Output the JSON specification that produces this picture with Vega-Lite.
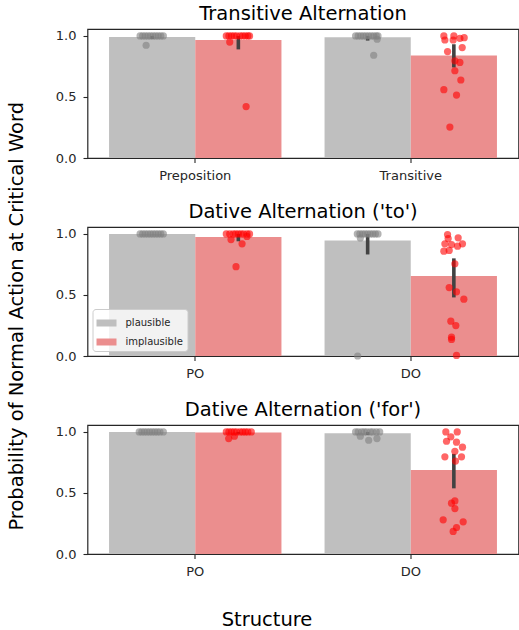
{
  "$schema": "https://vega.github.io/schema/vega-lite/v6.json",
  "padding": {"left": 6.5, "top": 3, "right": 0, "bottom": 0},
  "bounds": "flush",
  "title": {"text": "Probability of Normal Action at Critical Word", "orient": "left", "anchor": "middle", "frame": "bounds", "fontSize": 19.5, "fontWeight": "normal", "offset": 27},
  "datasets": {
    "summary": [
      {"panel": "T", "structure": "Preposition", "condition": "plausible", "mean": 0.992, "lo": 0.977, "hi": 1.0},
      {"panel": "T", "structure": "Preposition", "condition": "implausible", "mean": 0.967, "lo": 0.89, "hi": 1.0},
      {"panel": "T", "structure": "Transitive", "condition": "plausible", "mean": 0.989, "lo": 0.962, "hi": 1.0},
      {"panel": "T", "structure": "Transitive", "condition": "implausible", "mean": 0.84, "lo": 0.742, "hi": 0.932},
      {"panel": "to", "structure": "PO", "condition": "plausible", "mean": 1.0, "lo": 1.0, "hi": 1.0},
      {"panel": "to", "structure": "PO", "condition": "implausible", "mean": 0.976, "lo": 0.94, "hi": 1.0},
      {"panel": "to", "structure": "DO", "condition": "plausible", "mean": 0.946, "lo": 0.832, "hi": 1.0},
      {"panel": "to", "structure": "DO", "condition": "implausible", "mean": 0.656, "lo": 0.48, "hi": 0.8},
      {"panel": "for", "structure": "PO", "condition": "plausible", "mean": 1.0, "lo": 1.0, "hi": 1.0},
      {"panel": "for", "structure": "PO", "condition": "implausible", "mean": 0.995, "lo": 0.985, "hi": 1.0},
      {"panel": "for", "structure": "DO", "condition": "plausible", "mean": 0.989, "lo": 0.975, "hi": 1.0},
      {"panel": "for", "structure": "DO", "condition": "implausible", "mean": 0.688, "lo": 0.538, "hi": 0.82}
    ],
    "points": [
      {"panel": "T", "structure": "Preposition", "condition": "plausible", "value": 1.0, "jitter": -0.14},
      {"panel": "T", "structure": "Preposition", "condition": "plausible", "value": 1.0, "jitter": -0.11},
      {"panel": "T", "structure": "Preposition", "condition": "plausible", "value": 1.0, "jitter": -0.08},
      {"panel": "T", "structure": "Preposition", "condition": "plausible", "value": 1.0, "jitter": -0.05},
      {"panel": "T", "structure": "Preposition", "condition": "plausible", "value": 1.0, "jitter": -0.02},
      {"panel": "T", "structure": "Preposition", "condition": "plausible", "value": 1.0, "jitter": 0.01},
      {"panel": "T", "structure": "Preposition", "condition": "plausible", "value": 1.0, "jitter": 0.04},
      {"panel": "T", "structure": "Preposition", "condition": "plausible", "value": 1.0, "jitter": 0.07},
      {"panel": "T", "structure": "Preposition", "condition": "plausible", "value": 1.0, "jitter": 0.1},
      {"panel": "T", "structure": "Preposition", "condition": "plausible", "value": 1.0, "jitter": 0.13},
      {"panel": "T", "structure": "Preposition", "condition": "plausible", "value": 0.924, "jitter": -0.07},
      {"panel": "T", "structure": "Preposition", "condition": "implausible", "value": 1.0, "jitter": -0.14},
      {"panel": "T", "structure": "Preposition", "condition": "implausible", "value": 1.0, "jitter": -0.11},
      {"panel": "T", "structure": "Preposition", "condition": "implausible", "value": 1.0, "jitter": -0.08},
      {"panel": "T", "structure": "Preposition", "condition": "implausible", "value": 1.0, "jitter": -0.05},
      {"panel": "T", "structure": "Preposition", "condition": "implausible", "value": 1.0, "jitter": -0.02},
      {"panel": "T", "structure": "Preposition", "condition": "implausible", "value": 1.0, "jitter": 0.02},
      {"panel": "T", "structure": "Preposition", "condition": "implausible", "value": 1.0, "jitter": 0.05},
      {"panel": "T", "structure": "Preposition", "condition": "implausible", "value": 1.0, "jitter": 0.08},
      {"panel": "T", "structure": "Preposition", "condition": "implausible", "value": 1.0, "jitter": 0.11},
      {"panel": "T", "structure": "Preposition", "condition": "implausible", "value": 1.0, "jitter": 0.13},
      {"panel": "T", "structure": "Preposition", "condition": "implausible", "value": 0.95, "jitter": -0.1},
      {"panel": "T", "structure": "Preposition", "condition": "implausible", "value": 0.421, "jitter": 0.09},
      {"panel": "T", "structure": "Transitive", "condition": "plausible", "value": 1.0, "jitter": -0.14},
      {"panel": "T", "structure": "Transitive", "condition": "plausible", "value": 1.0, "jitter": -0.11},
      {"panel": "T", "structure": "Transitive", "condition": "plausible", "value": 1.0, "jitter": -0.08},
      {"panel": "T", "structure": "Transitive", "condition": "plausible", "value": 1.0, "jitter": -0.05},
      {"panel": "T", "structure": "Transitive", "condition": "plausible", "value": 1.0, "jitter": -0.02},
      {"panel": "T", "structure": "Transitive", "condition": "plausible", "value": 1.0, "jitter": 0.01},
      {"panel": "T", "structure": "Transitive", "condition": "plausible", "value": 1.0, "jitter": 0.04},
      {"panel": "T", "structure": "Transitive", "condition": "plausible", "value": 1.0, "jitter": 0.07},
      {"panel": "T", "structure": "Transitive", "condition": "plausible", "value": 1.0, "jitter": 0.1},
      {"panel": "T", "structure": "Transitive", "condition": "plausible", "value": 1.0, "jitter": 0.12},
      {"panel": "T", "structure": "Transitive", "condition": "plausible", "value": 0.973, "jitter": 0.11},
      {"panel": "T", "structure": "Transitive", "condition": "plausible", "value": 0.842, "jitter": 0.07},
      {"panel": "T", "structure": "Transitive", "condition": "implausible", "value": 1.0, "jitter": -0.116},
      {"panel": "T", "structure": "Transitive", "condition": "implausible", "value": 1.0, "jitter": 0.0},
      {"panel": "T", "structure": "Transitive", "condition": "implausible", "value": 0.981, "jitter": 0.07},
      {"panel": "T", "structure": "Transitive", "condition": "implausible", "value": 0.986, "jitter": 0.12},
      {"panel": "T", "structure": "Transitive", "condition": "implausible", "value": 0.967, "jitter": -0.104},
      {"panel": "T", "structure": "Transitive", "condition": "implausible", "value": 0.967, "jitter": -0.008},
      {"panel": "T", "structure": "Transitive", "condition": "implausible", "value": 0.905, "jitter": 0.097},
      {"panel": "T", "structure": "Transitive", "condition": "implausible", "value": 0.872, "jitter": -0.073},
      {"panel": "T", "structure": "Transitive", "condition": "implausible", "value": 0.796, "jitter": 0.012},
      {"panel": "T", "structure": "Transitive", "condition": "implausible", "value": 0.783, "jitter": 0.07},
      {"panel": "T", "structure": "Transitive", "condition": "implausible", "value": 0.715, "jitter": 0.012},
      {"panel": "T", "structure": "Transitive", "condition": "implausible", "value": 0.639, "jitter": 0.081},
      {"panel": "T", "structure": "Transitive", "condition": "implausible", "value": 0.56, "jitter": -0.116},
      {"panel": "T", "structure": "Transitive", "condition": "implausible", "value": 0.516, "jitter": 0.031},
      {"panel": "T", "structure": "Transitive", "condition": "implausible", "value": 0.253, "jitter": -0.046},
      {"panel": "to", "structure": "PO", "condition": "plausible", "value": 1.0, "jitter": -0.14},
      {"panel": "to", "structure": "PO", "condition": "plausible", "value": 1.0, "jitter": -0.11},
      {"panel": "to", "structure": "PO", "condition": "plausible", "value": 1.0, "jitter": -0.08},
      {"panel": "to", "structure": "PO", "condition": "plausible", "value": 1.0, "jitter": -0.05},
      {"panel": "to", "structure": "PO", "condition": "plausible", "value": 1.0, "jitter": -0.02},
      {"panel": "to", "structure": "PO", "condition": "plausible", "value": 1.0, "jitter": 0.01},
      {"panel": "to", "structure": "PO", "condition": "plausible", "value": 1.0, "jitter": 0.04},
      {"panel": "to", "structure": "PO", "condition": "plausible", "value": 1.0, "jitter": 0.07},
      {"panel": "to", "structure": "PO", "condition": "plausible", "value": 1.0, "jitter": 0.1},
      {"panel": "to", "structure": "PO", "condition": "plausible", "value": 1.0, "jitter": 0.13},
      {"panel": "to", "structure": "PO", "condition": "implausible", "value": 1.0, "jitter": -0.14},
      {"panel": "to", "structure": "PO", "condition": "implausible", "value": 1.0, "jitter": -0.1},
      {"panel": "to", "structure": "PO", "condition": "implausible", "value": 1.0, "jitter": -0.06},
      {"panel": "to", "structure": "PO", "condition": "implausible", "value": 1.0, "jitter": -0.03},
      {"panel": "to", "structure": "PO", "condition": "implausible", "value": 1.0, "jitter": 0.0},
      {"panel": "to", "structure": "PO", "condition": "implausible", "value": 1.0, "jitter": 0.03},
      {"panel": "to", "structure": "PO", "condition": "implausible", "value": 1.0, "jitter": 0.06},
      {"panel": "to", "structure": "PO", "condition": "implausible", "value": 1.0, "jitter": 0.1},
      {"panel": "to", "structure": "PO", "condition": "implausible", "value": 1.0, "jitter": 0.13},
      {"panel": "to", "structure": "PO", "condition": "implausible", "value": 0.954, "jitter": -0.085},
      {"panel": "to", "structure": "PO", "condition": "implausible", "value": 0.919, "jitter": 0.043},
      {"panel": "to", "structure": "PO", "condition": "implausible", "value": 0.98, "jitter": 0.1},
      {"panel": "to", "structure": "PO", "condition": "implausible", "value": 0.732, "jitter": -0.027},
      {"panel": "to", "structure": "DO", "condition": "plausible", "value": 1.0, "jitter": -0.12},
      {"panel": "to", "structure": "DO", "condition": "plausible", "value": 1.0, "jitter": -0.09},
      {"panel": "to", "structure": "DO", "condition": "plausible", "value": 1.0, "jitter": -0.06},
      {"panel": "to", "structure": "DO", "condition": "plausible", "value": 1.0, "jitter": -0.03},
      {"panel": "to", "structure": "DO", "condition": "plausible", "value": 1.0, "jitter": 0.0},
      {"panel": "to", "structure": "DO", "condition": "plausible", "value": 1.0, "jitter": 0.03},
      {"panel": "to", "structure": "DO", "condition": "plausible", "value": 1.0, "jitter": 0.06},
      {"panel": "to", "structure": "DO", "condition": "plausible", "value": 1.0, "jitter": 0.09},
      {"panel": "to", "structure": "DO", "condition": "plausible", "value": 1.0, "jitter": 0.12},
      {"panel": "to", "structure": "DO", "condition": "plausible", "value": 0.967, "jitter": -0.085},
      {"panel": "to", "structure": "DO", "condition": "plausible", "value": 0.0, "jitter": -0.116},
      {"panel": "to", "structure": "DO", "condition": "implausible", "value": 0.995, "jitter": -0.073},
      {"panel": "to", "structure": "DO", "condition": "implausible", "value": 0.962, "jitter": -0.066},
      {"panel": "to", "structure": "DO", "condition": "implausible", "value": 0.968, "jitter": 0.05},
      {"panel": "to", "structure": "DO", "condition": "implausible", "value": 0.919, "jitter": -0.104},
      {"panel": "to", "structure": "DO", "condition": "implausible", "value": 0.913, "jitter": -0.027},
      {"panel": "to", "structure": "DO", "condition": "implausible", "value": 0.919, "jitter": 0.1},
      {"panel": "to", "structure": "DO", "condition": "implausible", "value": 0.9, "jitter": 0.043},
      {"panel": "to", "structure": "DO", "condition": "implausible", "value": 0.859, "jitter": -0.116},
      {"panel": "to", "structure": "DO", "condition": "implausible", "value": 0.865, "jitter": -0.054},
      {"panel": "to", "structure": "DO", "condition": "implausible", "value": 0.756, "jitter": 0.012},
      {"panel": "to", "structure": "DO", "condition": "implausible", "value": 0.561, "jitter": -0.054},
      {"panel": "to", "structure": "DO", "condition": "implausible", "value": 0.526, "jitter": 0.031},
      {"panel": "to", "structure": "DO", "condition": "implausible", "value": 0.466, "jitter": 0.116},
      {"panel": "to", "structure": "DO", "condition": "implausible", "value": 0.285, "jitter": -0.035},
      {"panel": "to", "structure": "DO", "condition": "implausible", "value": 0.249, "jitter": 0.023},
      {"panel": "to", "structure": "DO", "condition": "implausible", "value": 0.154, "jitter": -0.027},
      {"panel": "to", "structure": "DO", "condition": "implausible", "value": 0.136, "jitter": -0.027},
      {"panel": "to", "structure": "DO", "condition": "implausible", "value": 0.005, "jitter": 0.031},
      {"panel": "for", "structure": "PO", "condition": "plausible", "value": 1.0, "jitter": -0.15},
      {"panel": "for", "structure": "PO", "condition": "plausible", "value": 1.0, "jitter": -0.12},
      {"panel": "for", "structure": "PO", "condition": "plausible", "value": 1.0, "jitter": -0.09},
      {"panel": "for", "structure": "PO", "condition": "plausible", "value": 1.0, "jitter": -0.06},
      {"panel": "for", "structure": "PO", "condition": "plausible", "value": 1.0, "jitter": -0.03},
      {"panel": "for", "structure": "PO", "condition": "plausible", "value": 1.0, "jitter": 0.0},
      {"panel": "for", "structure": "PO", "condition": "plausible", "value": 1.0, "jitter": 0.03},
      {"panel": "for", "structure": "PO", "condition": "plausible", "value": 1.0, "jitter": 0.06},
      {"panel": "for", "structure": "PO", "condition": "plausible", "value": 1.0, "jitter": 0.09},
      {"panel": "for", "structure": "PO", "condition": "plausible", "value": 1.0, "jitter": 0.13},
      {"panel": "for", "structure": "PO", "condition": "implausible", "value": 1.0, "jitter": -0.14},
      {"panel": "for", "structure": "PO", "condition": "implausible", "value": 1.0, "jitter": -0.11},
      {"panel": "for", "structure": "PO", "condition": "implausible", "value": 1.0, "jitter": -0.08},
      {"panel": "for", "structure": "PO", "condition": "implausible", "value": 1.0, "jitter": -0.05},
      {"panel": "for", "structure": "PO", "condition": "implausible", "value": 1.0, "jitter": -0.02},
      {"panel": "for", "structure": "PO", "condition": "implausible", "value": 1.0, "jitter": 0.02},
      {"panel": "for", "structure": "PO", "condition": "implausible", "value": 1.0, "jitter": 0.05},
      {"panel": "for", "structure": "PO", "condition": "implausible", "value": 1.0, "jitter": 0.08},
      {"panel": "for", "structure": "PO", "condition": "implausible", "value": 1.0, "jitter": 0.11},
      {"panel": "for", "structure": "PO", "condition": "implausible", "value": 1.0, "jitter": 0.15},
      {"panel": "for", "structure": "PO", "condition": "implausible", "value": 0.946, "jitter": -0.112},
      {"panel": "for", "structure": "PO", "condition": "implausible", "value": 0.965, "jitter": -0.046},
      {"panel": "for", "structure": "DO", "condition": "plausible", "value": 1.0, "jitter": -0.14},
      {"panel": "for", "structure": "DO", "condition": "plausible", "value": 1.0, "jitter": -0.11},
      {"panel": "for", "structure": "DO", "condition": "plausible", "value": 1.0, "jitter": -0.07},
      {"panel": "for", "structure": "DO", "condition": "plausible", "value": 1.0, "jitter": -0.04},
      {"panel": "for", "structure": "DO", "condition": "plausible", "value": 1.0, "jitter": -0.01},
      {"panel": "for", "structure": "DO", "condition": "plausible", "value": 1.0, "jitter": 0.03},
      {"panel": "for", "structure": "DO", "condition": "plausible", "value": 1.0, "jitter": 0.06},
      {"panel": "for", "structure": "DO", "condition": "plausible", "value": 1.0, "jitter": 0.1},
      {"panel": "for", "structure": "DO", "condition": "plausible", "value": 1.0, "jitter": 0.14},
      {"panel": "for", "structure": "DO", "condition": "plausible", "value": 0.965, "jitter": -0.085},
      {"panel": "for", "structure": "DO", "condition": "plausible", "value": 0.932, "jitter": 0.012},
      {"panel": "for", "structure": "DO", "condition": "plausible", "value": 0.946, "jitter": 0.108},
      {"panel": "for", "structure": "DO", "condition": "implausible", "value": 1.0, "jitter": -0.093},
      {"panel": "for", "structure": "DO", "condition": "implausible", "value": 1.0, "jitter": 0.039},
      {"panel": "for", "structure": "DO", "condition": "implausible", "value": 0.96, "jitter": -0.035},
      {"panel": "for", "structure": "DO", "condition": "implausible", "value": 0.924, "jitter": -0.085},
      {"panel": "for", "structure": "DO", "condition": "implausible", "value": 0.916, "jitter": 0.031},
      {"panel": "for", "structure": "DO", "condition": "implausible", "value": 0.875, "jitter": 0.1},
      {"panel": "for", "structure": "DO", "condition": "implausible", "value": 0.842, "jitter": 0.012},
      {"panel": "for", "structure": "DO", "condition": "implausible", "value": 0.796, "jitter": -0.104},
      {"panel": "for", "structure": "DO", "condition": "implausible", "value": 0.796, "jitter": 0.089},
      {"panel": "for", "structure": "DO", "condition": "implausible", "value": 0.761, "jitter": 0.019},
      {"panel": "for", "structure": "DO", "condition": "implausible", "value": 0.435, "jitter": 0.012},
      {"panel": "for", "structure": "DO", "condition": "implausible", "value": 0.416, "jitter": -0.027},
      {"panel": "for", "structure": "DO", "condition": "implausible", "value": 0.372, "jitter": 0.012},
      {"panel": "for", "structure": "DO", "condition": "implausible", "value": 0.28, "jitter": -0.124},
      {"panel": "for", "structure": "DO", "condition": "implausible", "value": 0.264, "jitter": 0.108},
      {"panel": "for", "structure": "DO", "condition": "implausible", "value": 0.217, "jitter": 0.031},
      {"panel": "for", "structure": "DO", "condition": "implausible", "value": 0.185, "jitter": -0.008}
    ]
  },
  "spacing": 69,
  "resolve": {"scale": {"color": "independent", "xOffset": "independent"}, "legend": {"color": "independent"}},
  "vconcat": [
    {
      "title": "Transitive Alternation",
      "width": 431,
      "height": 129,
      "resolve": {"scale": {"color": "independent", "xOffset": "independent"}},
      "layer": [
        {
          "data": {"name": "summary"},
          "transform": [{"filter": "datum.panel === 'T'"}],
          "mark": {"type": "bar"},
          "encoding": {
            "x": {"field": "structure", "type": "nominal", "scale": {"domain": ["Preposition", "Transitive"], "paddingInner": 0.2, "paddingOuter": 0.1}, "axis": {"title": null}},
            "xOffset": {"field": "condition", "type": "nominal", "scale": {"domain": ["plausible", "implausible"]}},
            "y": {"field": "mean", "type": "quantitative", "scale": {"domain": [0, 1.057], "nice": false, "zero": false}, "axis": {"title": null, "values": [0, 0.5, 1], "format": ".1f"}},
            "color": {"field": "condition", "type": "nominal", "scale": {"domain": ["plausible", "implausible"], "range": ["#bfbfbf", "#eb8e8e"]}, "legend": null}
          }
        },
        {
          "data": {"name": "summary"},
          "transform": [{"filter": "datum.panel === 'T'"}],
          "mark": {"type": "rule", "strokeWidth": 3.6, "color": "#424242"},
          "encoding": {
            "x": {"field": "structure", "type": "nominal"},
            "xOffset": {"field": "condition", "type": "nominal", "scale": {"domain": ["plausible", "implausible"]}},
            "y": {"field": "lo", "type": "quantitative"},
            "y2": {"field": "hi"}
          }
        },
        {
          "data": {"name": "points"},
          "transform": [{"filter": "datum.panel === 'T'"}, {"calculate": "(datum.condition === 'plausible' ? -0.5 : 0.5) + datum.jitter", "as": "pos"}],
          "mark": {"type": "circle", "size": 52, "opacity": 0.6},
          "encoding": {
            "x": {"field": "structure", "type": "nominal"},
            "xOffset": {"field": "pos", "type": "quantitative", "scale": {"domain": [-1, 1], "nice": false, "zero": false}},
            "y": {"field": "value", "type": "quantitative"},
            "color": {"field": "condition", "type": "nominal", "scale": {"domain": ["plausible", "implausible"], "range": ["#808080", "#ff0000"]}, "legend": null}
          }
        }
      ]
    },
    {
      "title": "Dative Alternation ('to')",
      "width": 431,
      "height": 129,
      "resolve": {"scale": {"color": "independent", "xOffset": "independent"}},
      "layer": [
        {
          "data": {"name": "summary"},
          "transform": [{"filter": "datum.panel === 'to'"}],
          "mark": {"type": "bar"},
          "encoding": {
            "x": {"field": "structure", "type": "nominal", "scale": {"domain": ["PO", "DO"], "paddingInner": 0.2, "paddingOuter": 0.1}, "axis": {"title": null}},
            "xOffset": {"field": "condition", "type": "nominal", "scale": {"domain": ["plausible", "implausible"]}},
            "y": {"field": "mean", "type": "quantitative", "scale": {"domain": [0, 1.057], "nice": false, "zero": false}, "axis": {"values": [0, 0.5, 1], "format": ".1f", "title": null}},
            "color": {"field": "condition", "type": "nominal", "scale": {"domain": ["plausible", "implausible"], "range": ["#bfbfbf", "#eb8e8e"]}, "legend": {"orient": "bottom-left", "title": null, "symbolType": "M-1,-0.35L1,-0.35L1,0.35L-1,0.35Z", "symbolSize": 400, "symbolStrokeWidth": 0, "labelFontSize": 10, "labelColor": "#262626", "fillColor": "rgba(255,255,255,0.8)", "strokeColor": "#cccccc", "cornerRadius": 3, "padding": 4, "offset": 5, "rowPadding": 4, "labelOffset": 9}}
          }
        },
        {
          "data": {"name": "summary"},
          "transform": [{"filter": "datum.panel === 'to'"}],
          "mark": {"type": "rule", "strokeWidth": 3.6, "color": "#424242"},
          "encoding": {
            "x": {"field": "structure", "type": "nominal"},
            "xOffset": {"field": "condition", "type": "nominal", "scale": {"domain": ["plausible", "implausible"]}},
            "y": {"field": "lo", "type": "quantitative"},
            "y2": {"field": "hi"}
          }
        },
        {
          "data": {"name": "points"},
          "transform": [{"filter": "datum.panel === 'to'"}, {"calculate": "(datum.condition === 'plausible' ? -0.5 : 0.5) + datum.jitter", "as": "pos"}],
          "mark": {"type": "circle", "size": 52, "opacity": 0.6},
          "encoding": {
            "x": {"field": "structure", "type": "nominal"},
            "xOffset": {"field": "pos", "type": "quantitative", "scale": {"domain": [-1, 1], "nice": false, "zero": false}},
            "y": {"field": "value", "type": "quantitative"},
            "color": {"field": "condition", "type": "nominal", "scale": {"domain": ["plausible", "implausible"], "range": ["#808080", "#ff0000"]}, "legend": null}
          }
        }
      ]
    },
    {
      "title": "Dative Alternation ('for')",
      "width": 431,
      "height": 129,
      "resolve": {"scale": {"color": "independent", "xOffset": "independent"}},
      "layer": [
        {
          "data": {"name": "summary"},
          "transform": [{"filter": "datum.panel === 'for'"}],
          "mark": {"type": "bar"},
          "encoding": {
            "x": {"field": "structure", "type": "nominal", "scale": {"domain": ["PO", "DO"], "paddingInner": 0.2, "paddingOuter": 0.1}, "axis": {"title": "Structure", "titleFontSize": 19.5, "titleFontWeight": "normal", "titleX": 179, "titleY": 71, "titleAlign": "center", "titleBaseline": "alphabetic"}},
            "xOffset": {"field": "condition", "type": "nominal", "scale": {"domain": ["plausible", "implausible"]}},
            "y": {"field": "mean", "type": "quantitative", "scale": {"domain": [0, 1.057], "nice": false, "zero": false}, "axis": {"title": null, "values": [0, 0.5, 1], "format": ".1f"}},
            "color": {"field": "condition", "type": "nominal", "scale": {"domain": ["plausible", "implausible"], "range": ["#bfbfbf", "#eb8e8e"]}, "legend": null}
          }
        },
        {
          "data": {"name": "summary"},
          "transform": [{"filter": "datum.panel === 'for'"}],
          "mark": {"type": "rule", "strokeWidth": 3.6, "color": "#424242"},
          "encoding": {
            "x": {"field": "structure", "type": "nominal"},
            "xOffset": {"field": "condition", "type": "nominal", "scale": {"domain": ["plausible", "implausible"]}},
            "y": {"field": "lo", "type": "quantitative"},
            "y2": {"field": "hi"}
          }
        },
        {
          "data": {"name": "points"},
          "transform": [{"filter": "datum.panel === 'for'"}, {"calculate": "(datum.condition === 'plausible' ? -0.5 : 0.5) + datum.jitter", "as": "pos"}],
          "mark": {"type": "circle", "size": 52, "opacity": 0.6},
          "encoding": {
            "x": {"field": "structure", "type": "nominal"},
            "xOffset": {"field": "pos", "type": "quantitative", "scale": {"domain": [-1, 1], "nice": false, "zero": false}},
            "y": {"field": "value", "type": "quantitative"},
            "color": {"field": "condition", "type": "nominal", "scale": {"domain": ["plausible", "implausible"], "range": ["#808080", "#ff0000"]}, "legend": null}
          }
        }
      ]
    }
  ],
  "config": {
    "font": "DejaVu Sans",
    "view": {"stroke": "#262626", "strokeWidth": 1.2},
    "title": {"fontSize": 19.5, "fontWeight": "normal", "font": "DejaVu Sans", "color": "#000000", "offset": 4.5},
    "axis": {
      "grid": false,
      "domain": false,
      "labelFont": "DejaVu Sans",
      "titleFont": "DejaVu Sans",
      "labelFontSize": 13,
      "labelColor": "#262626",
      "titleColor": "#000000",
      "tickColor": "#262626",
      "tickSize": 4.5,
      "tickWidth": 1.1
    },
    "axisX": {"labelAngle": 0, "labelPadding": 6.5},
    "axisY": {"labelPadding": 7}
  }
}
